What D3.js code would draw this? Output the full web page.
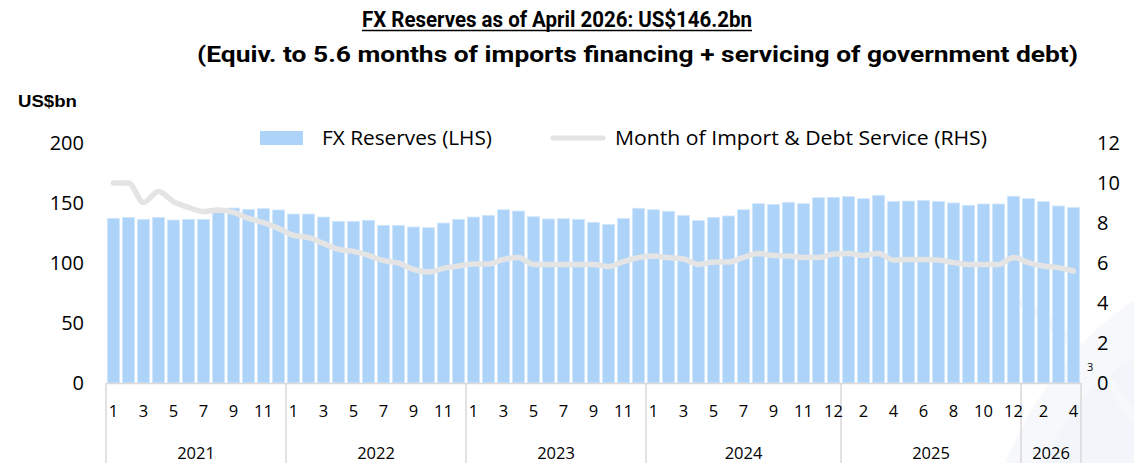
<!DOCTYPE html>
<html><head><meta charset="utf-8">
<script src="https://cdn.jsdelivr.net/npm/d3@7"></script>
<style>body{margin:0;background:#fff}svg{display:block}</style>
</head><body><svg id="c" width="1134" height="463"></svg>
<script>
const titleLine1 = "FX Reserves as of April 2026: US$146.2bn";
const titleLine2 = "(Equiv. to 5.6 months of imports financing + servicing of government debt)";
const yearGroups = ["2021","2022","2023","2024","2025","2026"];
const yearCounts = [12,12,12,13,12,4];
const monthLabels = [
 "1","2","3","4","5","6","7","8","9","10","11","12",
 "1","2","3","4","5","6","7","8","9","10","11","12",
 "1","2","3","4","5","6","7","8","9","10","11","12",
 "1","2","3","4","5","6","7","8","9","10","11","12","12",
 "1","2","3","4","5","6","7","8","9","10","11","12",
 "1","2","3","4"];
const reserves = [
 137.2,138.0,136.4,138.0,135.8,136.4,136.4,141.9,145.8,144.7,145.3,144.2,
 140.8,140.8,138.3,134.7,134.7,135.6,131.4,131.4,130.0,129.4,133.3,136.4,
 138.3,139.7,144.4,143.3,138.6,136.7,136.9,136.4,133.9,132.2,137.2,145.6,
 144.4,143.1,139.7,135.3,138.0,139.2,144.4,149.4,148.9,150.6,149.4,154.4,154.7,
 155.3,153.6,156.4,151.4,151.6,152.2,151.4,150.0,148.1,149.2,149.2,155.6,
 153.6,151.1,147.5,146.2];
const importCover = [
 10.0,10.0,9.03,9.57,9.07,8.78,8.57,8.65,8.53,8.23,8.02,7.73,
 7.38,7.27,6.98,6.68,6.58,6.38,6.12,6.0,5.68,5.55,5.73,5.85,
 5.95,5.95,6.18,6.28,5.93,5.93,5.93,5.93,5.93,5.82,6.07,6.27,
 6.35,6.27,6.2,5.93,6.05,6.05,6.28,6.48,6.37,6.35,6.27,6.27,6.45,
 6.48,6.37,6.48,6.15,6.17,6.17,6.15,6.02,5.92,5.92,5.92,6.28,
 6.02,5.85,5.77,5.6];
const leftTicks = [0,50,100,150,200];
const rightTicks = [0,2,4,6,8,10,12];
const legendLabels = ["FX Reserves (LHS)","Month of Import & Debt Service (RHS)"];
const leftUnit = "US$bn";

const svg = d3.select("#c");
const W = 1134, H = 463;
const plotL = 106, plotR = 1081, plotT = 143, plotB = 383;
const idx = d3.range(reserves.length);
const x = d3.scaleBand().domain(idx).range([plotL, plotR]).paddingInner(0.18).paddingOuter(0.09);
const yL = d3.scaleLinear().domain([0,200]).range([plotB, plotT]);
const yR = d3.scaleLinear().domain([0,12]).range([plotB, plotT]);

// faint background swoosh (decorative watermark)
const wm = svg.append("g").attr("opacity",0.5);
wm.append("path").attr("d","M1005,463 C1040,380 1090,330 1134,300 L1134,463 Z").attr("fill","#eef3f8");
wm.append("path").attr("d","M1045,463 C1065,410 1100,375 1134,360 L1134,463 Z").attr("fill","#e6eef6");
wm.append("path").attr("d","M1020,300 C1060,330 1100,360 1134,420").attr("fill","none").attr("stroke","#eef2f6").attr("stroke-width",10);

const font = "'Open Sans', sans-serif";

// titles
svg.append("text").attr("x",(362+752)/2).attr("y",27).attr("text-anchor","middle")
 .attr("font-family","Roboto, sans-serif").attr("font-weight",700).attr("font-size",22)
 .attr("textLength",390).attr("lengthAdjust","spacingAndGlyphs").attr("fill","#000").text(titleLine1);
svg.append("line").attr("x1",362).attr("x2",752).attr("y1",30.5).attr("y2",30.5).attr("stroke","#000").attr("stroke-width",1.5);
svg.append("text").attr("x",(197+1078)/2).attr("y",62).attr("text-anchor","middle")
 .attr("font-family","Roboto, sans-serif").attr("font-weight",700).attr("font-size",22.5)
 .attr("textLength",881).attr("lengthAdjust","spacingAndGlyphs").attr("fill","#000").text(titleLine2);

// unit label
svg.append("text").attr("x",18).attr("y",107).attr("font-family","'Liberation Sans', Arial, sans-serif")
 .attr("font-weight",700).attr("font-size",16.5).attr("textLength",59).attr("lengthAdjust","spacingAndGlyphs")
 .attr("fill","#000").text(leftUnit);

// legend
svg.append("rect").attr("x",260).attr("y",131).attr("width",43).attr("height",14).attr("fill","#add3f8");
svg.append("text").attr("x",322).attr("y",145).attr("font-family",font).attr("font-size",20)
 .attr("textLength",170).attr("lengthAdjust","spacingAndGlyphs").attr("fill","#000").text(legendLabels[0]);
svg.append("line").attr("x1",553).attr("x2",603).attr("y1",138).attr("y2",138).attr("stroke","#e4e4e4").attr("stroke-width",5).attr("stroke-linecap","round");
svg.append("text").attr("x",615).attr("y",145).attr("font-family",font).attr("font-size",20)
 .attr("textLength",372).attr("lengthAdjust","spacingAndGlyphs").attr("fill","#000").text(legendLabels[1]);

// bars
svg.append("g").selectAll("rect").data(reserves).join("rect")
 .attr("x",(d,i)=>x(i)).attr("width",x.bandwidth())
 .attr("y",d=>yL(d)).attr("height",d=>yL(0)-yL(d))
 .attr("fill","#add3f8").attr("stroke","#d3e8fc").attr("stroke-width",0.8);

// line
const line = d3.line().x((d,i)=>x(i)+x.bandwidth()/2).y(d=>yR(d)).curve(d3.curveMonotoneX);
svg.append("path").datum(importCover).attr("d",line).attr("fill","none")
 .attr("stroke","#e4e4e4").attr("stroke-width",5.5).attr("stroke-linecap","round").attr("stroke-linejoin","round");

// left axis
const gL = svg.append("g").attr("transform",`translate(84,0)`)
 .call(d3.axisLeft(yL).tickValues(leftTicks).tickSize(0).tickPadding(0));
gL.select(".domain").remove();
gL.selectAll("text").attr("font-family",font).attr("font-size",20).attr("fill","#000");

// right axis
const gR = svg.append("g").attr("transform",`translate(1097,0)`)
 .call(d3.axisRight(yR).tickValues(rightTicks).tickSize(0).tickPadding(0));
gR.select(".domain").remove();
gR.selectAll("text").attr("font-family",font).attr("font-size",20).attr("fill","#000");

// category axis
const axisCol = "#d9d9d9";
svg.append("line").attr("x1",plotL).attr("x2",plotR).attr("y1",plotB+0.5).attr("y2",plotB+0.5).attr("stroke",axisCol).attr("stroke-width",1.5);
let start = 0;
const bounds = [0];
yearCounts.forEach(c=>{start+=c; bounds.push(start);});
const step = x.step();
const edge = i => plotL + i*step;
svg.append("g").selectAll("line").data(bounds).join("line")
 .attr("x1",d=>edge(d)).attr("x2",d=>edge(d)).attr("y1",plotB).attr("y2",H)
 .attr("stroke",axisCol).attr("stroke-width",1.5);
svg.append("g").selectAll("text").data(idx.filter(i=>i%2===0)).join("text")
 .attr("x",i=>x(i)+x.bandwidth()/2).attr("y",417).attr("text-anchor","middle")
 .attr("font-family",font).attr("font-size",16.5).attr("fill","#000").text(i=>monthLabels[i]);
svg.append("g").selectAll("text").data(yearGroups).join("text")
 .attr("x",(d,k)=>(edge(bounds[k])+edge(bounds[k+1]))/2).attr("y",459).attr("text-anchor","middle")
 .attr("font-family",font).attr("font-size",16.5).attr("fill","#000").text(d=>d);

// page number artefact
svg.append("text").attr("x",1087).attr("y",371).attr("font-family",font).attr("font-size",11).attr("fill","#000").text("3");
</script></body></html>
